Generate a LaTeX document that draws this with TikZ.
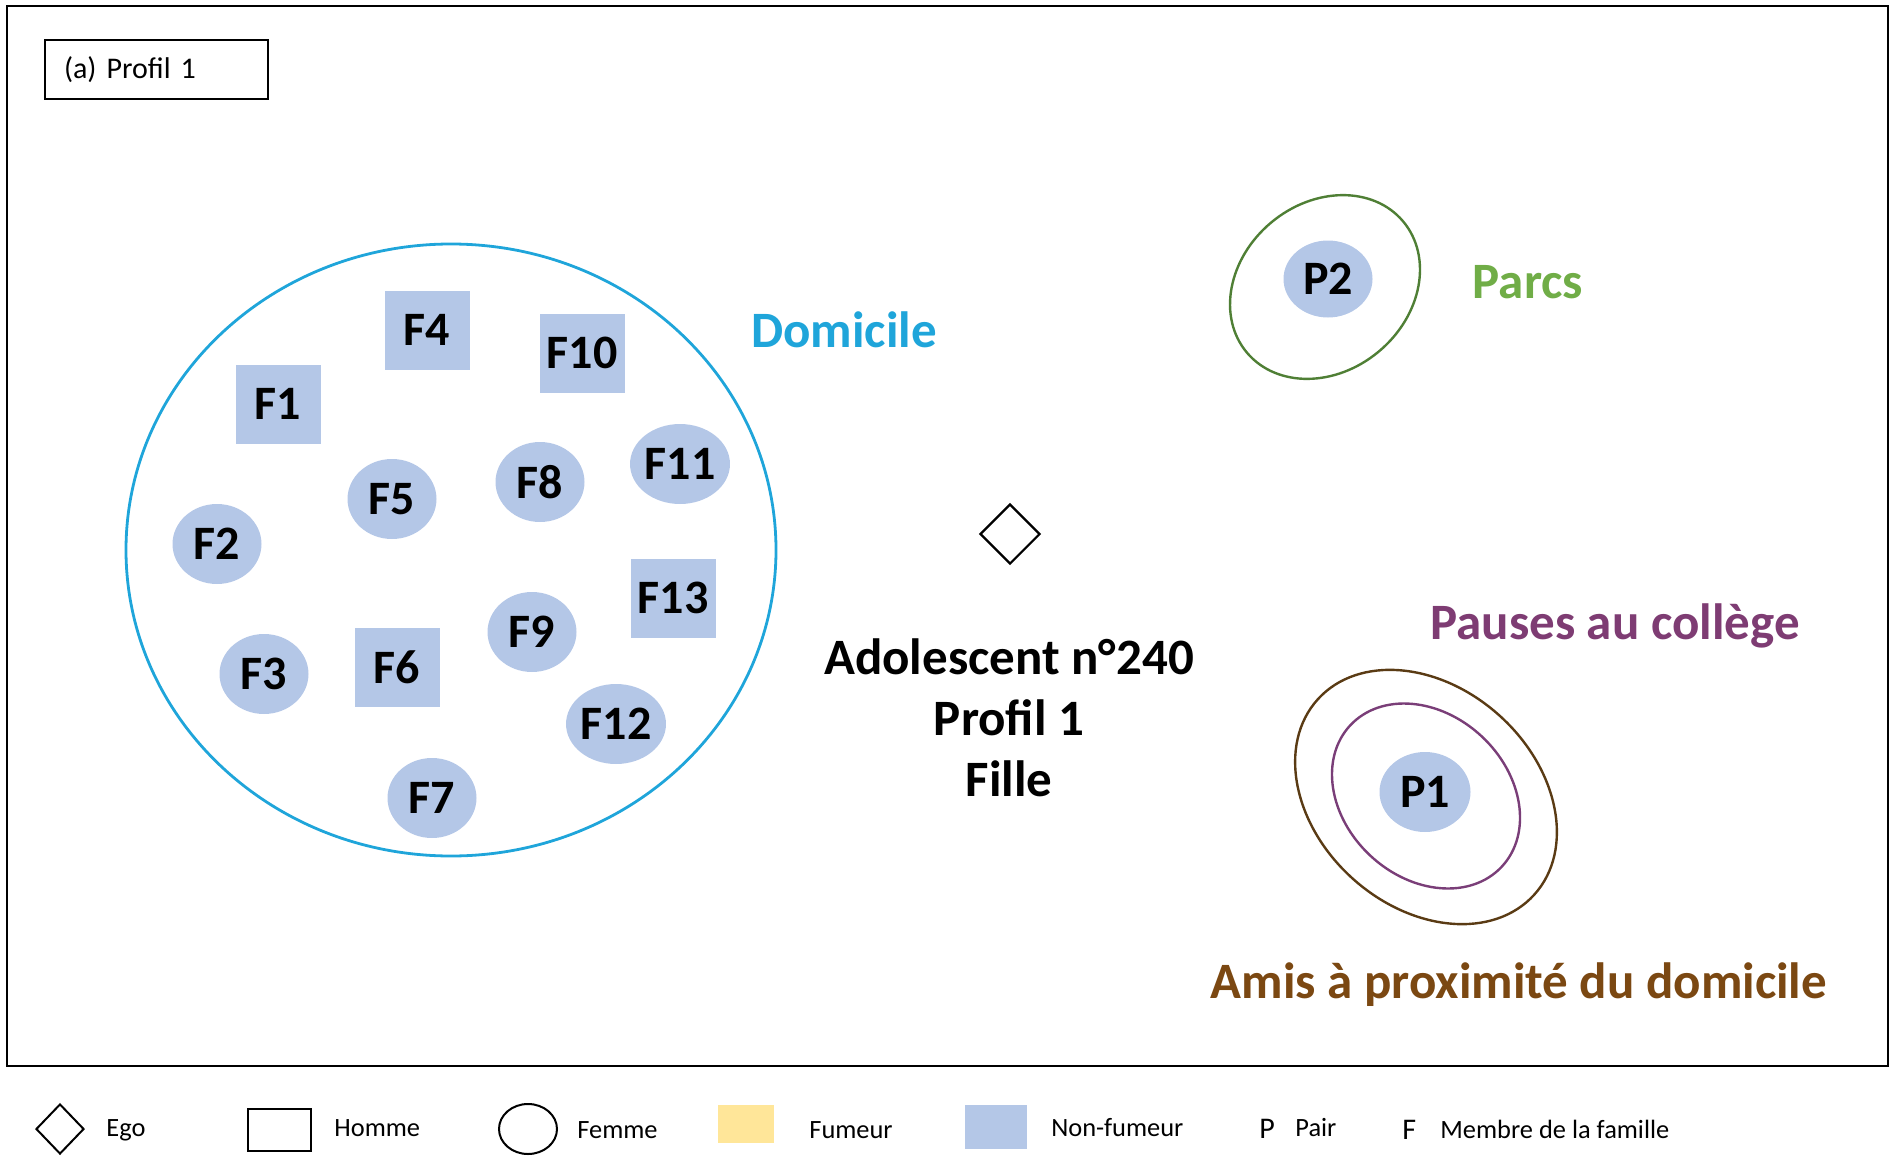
\documentclass[tikz,border=0pt]{standalone}
\usepackage{fontspec}
\setmainfont{Carlito}
\usetikzlibrary{shapes.geometric}
\definecolor{nf}{HTML}{B4C7E7}
\definecolor{fum}{HTML}{FFE699}
\definecolor{domblue}{HTML}{1FA5DA}
\definecolor{parcgreen}{HTML}{70AD47}
\definecolor{parcline}{HTML}{4F7F35}
\definecolor{pausepurple}{HTML}{7E3C73}
\definecolor{pauseline}{HTML}{7A3E78}
\definecolor{amisbrown}{HTML}{7B4812}
\definecolor{amisline}{HTML}{5A3B14}
\tikzset{
  fsq/.style={rectangle, fill=nf, minimum width=42.5pt, minimum height=39.5pt, inner sep=0pt, font=\fontsize{24}{28}\selectfont\bfseries},
  fci/.style={ellipse, fill=nf, minimum width=44.5pt, minimum height=40pt, inner sep=0pt, font=\fontsize{24}{28}\selectfont\bfseries},
  biglabel/.style={font=\fontsize{25.5}{30.5}\selectfont\bfseries, inner sep=0pt},
  ring/.style={ellipse, draw, line width=1.2pt, inner sep=0pt},
  legtext/.style={anchor=base west, inner sep=0pt, font=\fontsize{13.2}{15}\selectfont},
}
\begin{document}
\begin{tikzpicture}[x=0.5pt, y=-0.5pt]
\useasboundingbox (0,0) rectangle (1890,1156);
% outer frame
\draw[line width=1pt] (7,6) rectangle (1888,1066);
% title box
\node[draw, line width=0.8pt, text width=92.5pt, align=left, inner xsep=9.5pt, minimum height=29.5pt, font=\fontsize{15}{18}\selectfont] (title) at (156.5,69.5) {(a) Profil 1};

% Domicile
\node[ellipse, draw=domblue, line width=1.4pt, minimum width=325pt, minimum height=306pt, inner sep=0pt] (dom) at (451,550) {};
\node[biglabel, text=domblue] (domlab) at (844,330) {Domicile};
\node[fsq] (F4) at (427,330) {F4};
\node[fsq] (F10) at (582,353) {F10};
\node[fsq] (F1) at (278,404) {F1};
\node[fci] (F5) at (392,499) {F5};
\node[fci] (F8) at (540,482) {F8};
\node[fci] (F11) at (680,464) {F11};
\node[fci] (F2) at (217,544) {F2};
\node[fsq] (F13) at (673,598) {F13};
\node[fci] (F9) at (532,632) {F9};
\node[fci] (F3) at (264,674) {F3};
\node[fsq] (F6) at (397,667) {F6};
\node[fci] (F12) at (616,724) {F12};
\node[fci] (F7) at (432,798) {F7};

% Ego
\node[diamond, draw, line width=1.1pt, minimum width=30pt, minimum height=30pt, inner sep=0pt] (ego) at (1010,534) {};
\node[biglabel, align=center] (egolab) at (1009,718) {Adolescent n°240\\Profil 1\\Fille};

% Parcs
\node[ring, draw=parcline, minimum width=102pt, minimum height=84pt, rotate=40] (parcring) at (1325,287) {};
\node[fci, minimum width=44.5pt, minimum height=38.5pt] (P2) at (1328,279) {P2};
\node[biglabel, text=parcgreen] (parclab) at (1528,282) {Parcs};

% Pauses / Amis
\node[ring, draw=amisline, minimum width=145.8pt, minimum height=109.7pt, rotate=-42] (amisring) at (1426,797) {};
\node[ring, draw=pauseline, minimum width=103.6pt, minimum height=81.6pt, rotate=-43] (pausering) at (1426,796) {};
\node[fci, minimum width=45.5pt, minimum height=40pt] (P1) at (1425,792) {P1};
\node[biglabel, text=pausepurple] (pauselab) at (1615,626) {Pauses au collège};
\node[biglabel, text=amisbrown] (amislab) at (1519,985) {Amis à proximité du domicile};

% Legend
\node[diamond, draw, line width=1pt, minimum width=24pt, minimum height=25pt, inner sep=0pt] (legego) at (60,1129) {};
\node[legtext] (legegot) at (106,1136) {Ego};
\node[rectangle, draw, line width=1pt, minimum width=31.5pt, minimum height=21pt, inner sep=0pt] (leghom) at (279.5,1130) {};
\node[legtext] (leghomt) at (334,1136) {Homme};
\node[ellipse, draw, line width=1pt, minimum width=29pt, minimum height=25pt, inner sep=0pt] (legfem) at (528,1129) {};
\node[legtext] (legfemt) at (577,1138) {Femme};
\node[rectangle, fill=fum, minimum width=28pt, minimum height=19pt, inner sep=0pt] (legfum) at (746,1124) {};
\node[legtext] (legfumt) at (809,1138) {Fumeur};
\node[rectangle, fill=nf, minimum width=31pt, minimum height=22pt, inner sep=0pt] (legnf) at (996,1127) {};
\node[legtext] (legnft) at (1051,1136) {Non-fumeur};
\node[legtext, font=\fontsize{15}{17}\selectfont] (legp) at (1259,1138) {P};
\node[legtext] (legpt) at (1295,1136) {Pair};
\node[legtext, font=\fontsize{15}{17}\selectfont] (legf) at (1402,1139) {F};
\node[legtext] (legft) at (1440,1138) {Membre de la famille};
\end{tikzpicture}
\end{document}
